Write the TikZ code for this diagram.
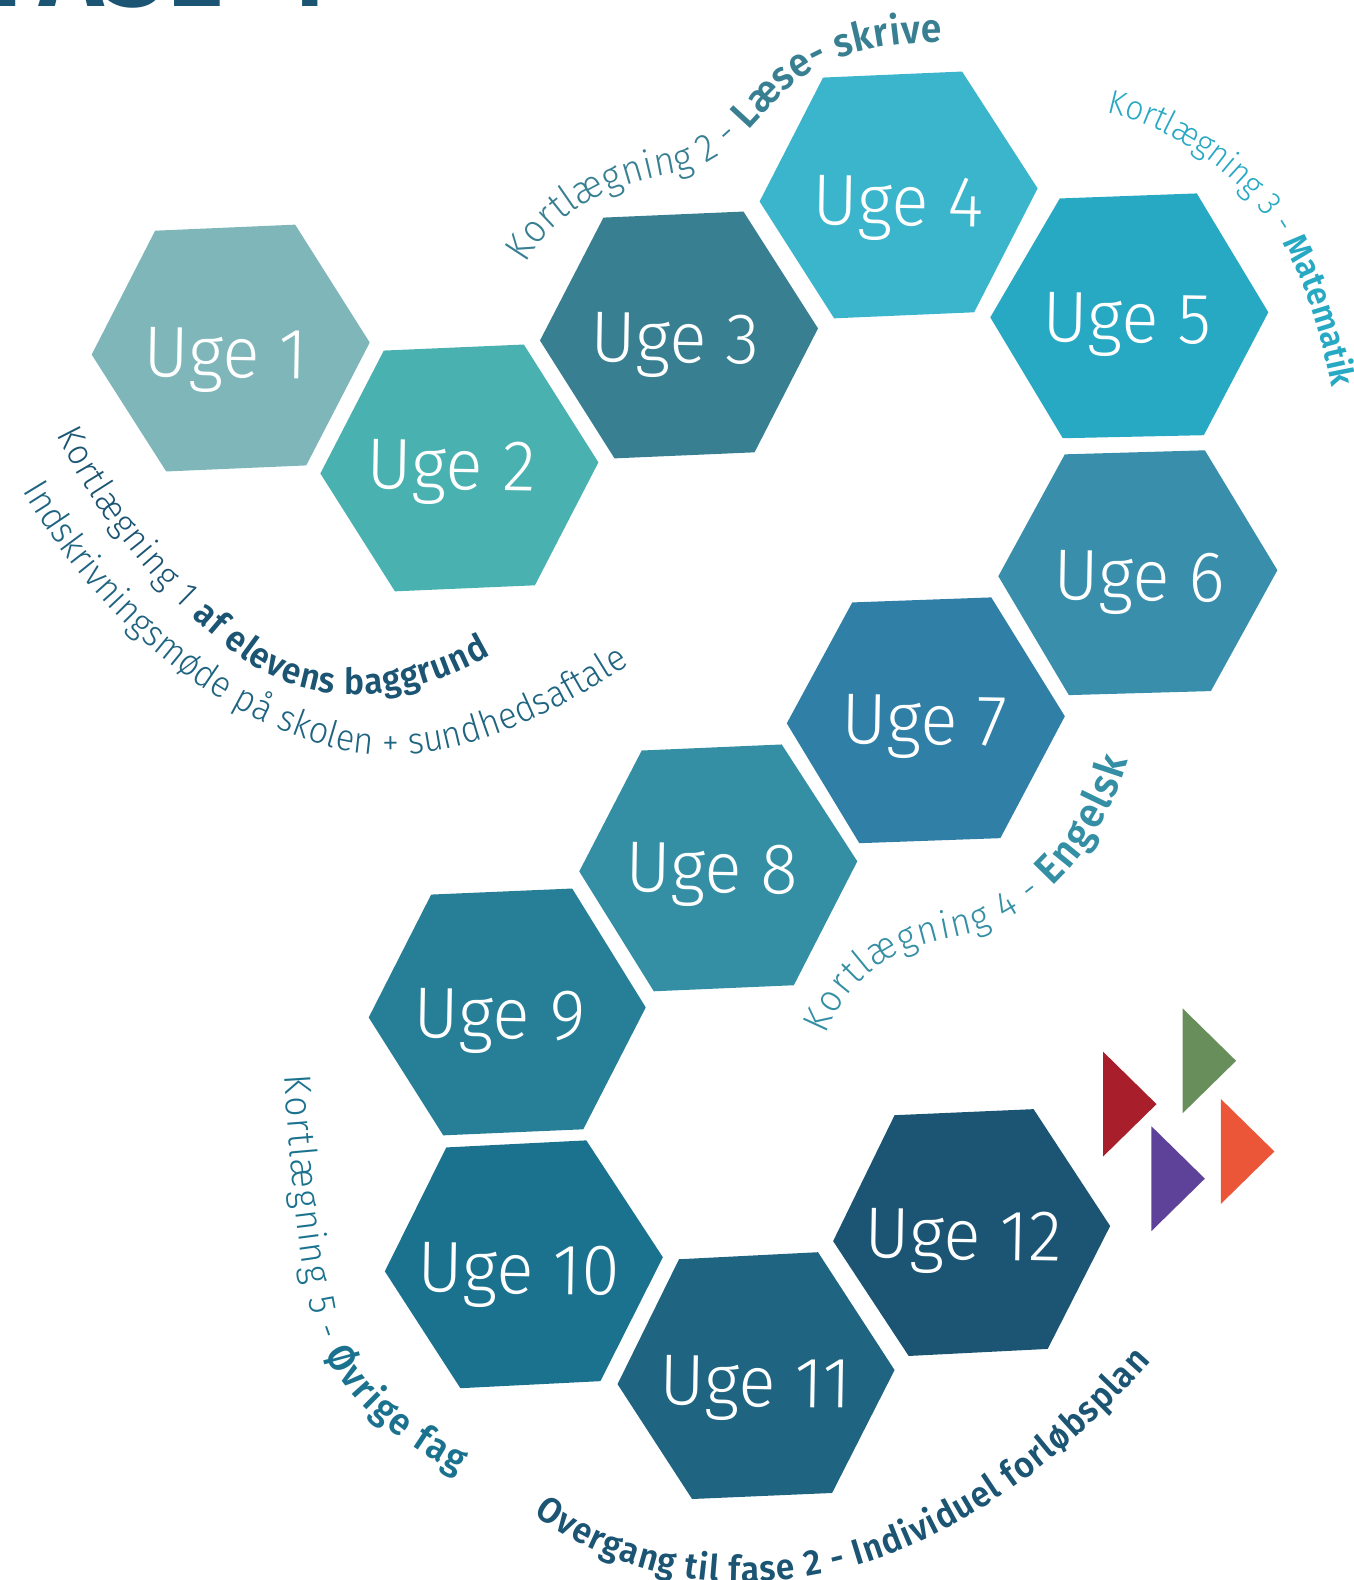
\documentclass[tikz,border=0pt]{standalone}
\usepackage{fontspec}
\usetikzlibrary{decorations.text}
\setmainfont{Fira Sans Light}[BoldFont={Fira Sans SemiBold},FakeStretch=0.93]
\newfontfamily\ugefont{Fira Sans Light}[FakeStretch=0.96]
\newfontfamily\titlefont{Fira Sans SemiBold}
\definecolor{cu1}{HTML}{7FB6BA}
\definecolor{cu2}{HTML}{4AB1B1}
\definecolor{cu3}{HTML}{387F92}
\definecolor{cu4}{HTML}{3AB5CC}
\definecolor{cu5}{HTML}{27A8C3}
\definecolor{cu6}{HTML}{388EAB}
\definecolor{cu7}{HTML}{2F7FA7}
\definecolor{cu8}{HTML}{348FA5}
\definecolor{cu9}{HTML}{277F97}
\definecolor{cu10}{HTML}{1B728F}
\definecolor{cu11}{HTML}{1F6480}
\definecolor{cu12}{HTML}{1B5573}
\definecolor{tred}{HTML}{A91E2B}
\definecolor{tgreen}{HTML}{688F5B}
\definecolor{tpurple}{HTML}{5E429A}
\definecolor{torange}{HTML}{EB5639}
\tikzset{
  ugelabel/.style={text=white,font=\ugefont\fontsize{36}{36}\selectfont,inner sep=0pt,rotate=-1},
  curvetext/.style={decorate,decoration={text along path,text align={fit to path},text={#1}}},
  curvetextleft/.style={decorate,decoration={text along path,text={#1}}},
  tri/.style={fill=#1,draw=none}
}
\newcommand{\hexa}[7]{\fill[#1] #2 -- #3 -- #4 -- #5 -- #6 -- #7 -- cycle;}
\begin{document}
\begin{tikzpicture}[x=0.50370pt,y=-0.50370pt]
\useasboundingbox (0,0) rectangle (1344,1568.4);
% title, cut by the page edge
\node[anchor=base west,inner sep=0pt,text=cu12,font=\titlefont\fontsize{55}{55}\selectfont] (title) at (-9,6) {FASE\hspace{13pt} 1};
% hexagons
\hexa{cu1}{(91,352)}{(154,229)}{(293,223)}{(367,340)}{(304,462)}{(165,468)}
\hexa{cu2}{(318,470)}{(381,348)}{(520,342)}{(594,459)}{(531,581)}{(392,587)}
\hexa{cu3}{(536,338)}{(599,216)}{(738,210)}{(812,326)}{(749,449)}{(610,455)}
\hexa{cu4}{(754,200)}{(817,77)}{(955,71)}{(1030,187)}{(967,310)}{(828,316)}
\hexa{cu5}{(983,315)}{(1052,197)}{(1188,192)}{(1259,310)}{(1195,432)}{(1055,435)}
\hexa{cu6}{(991,572)}{(1057,451)}{(1196,447)}{(1268,566)}{(1202,686)}{(1061,690)}
\hexa{cu7}{(781,718)}{(846,598)}{(984,593)}{(1057,711)}{(993,832)}{(853,837)}
\hexa{cu8}{(575,865)}{(637,745)}{(776,739)}{(851,855)}{(788,978)}{(649,984)}
\hexa{cu9}{(366,1010)}{(428,888)}{(568,882)}{(641,1000)}{(579,1121)}{(440,1127)}
\hexa{cu10}{(382,1262)}{(443,1139)}{(582,1132)}{(658,1248)}{(596,1371)}{(457,1378)}
\hexa{cu11}{(613,1374)}{(674,1250)}{(812,1243)}{(888,1360)}{(826,1482)}{(687,1488)}
\hexa{cu12}{(827,1232)}{(888,1107)}{(1026,1101)}{(1102,1217)}{(1040,1339)}{(902,1346)}
% labels
\node[ugelabel] (u1) at (224,358) {Uge 1};
\node[ugelabel] (u2) at (448,469) {Uge 2};
\node[ugelabel] (u3) at (670,343) {Uge 3};
\node[ugelabel] (u4) at (892,207) {Uge 4};
\node[ugelabel] (u5) at (1119,323) {Uge 5};
\node[ugelabel] (u6) at (1131,579) {Uge 6};
\node[ugelabel] (u7) at (918,722) {Uge 7};
\node[ugelabel] (u8) at (707,869) {Uge 8};
\node[ugelabel] (u9) at (496,1014) {Uge 9};
\node[ugelabel] (u10) at (515,1267) {Uge 10};
\node[ugelabel] (u11) at (750,1379) {Uge 11};
\node[ugelabel] (u12) at (956,1233) {Uge 12};
% triangles
\fill[tri=tred] (1095,1044) -- (1148,1096) -- (1095,1148) -- cycle;
\fill[tri=tgreen] (1174,1001) -- (1227,1053) -- (1174,1105) -- cycle;
\fill[tri=tpurple] (1143,1118) -- (1196,1170) -- (1143,1222) -- cycle;
\fill[tri=torange] (1212,1091) -- (1265,1143) -- (1212,1195) -- cycle;
% curved captions
\path[curvetext={|\fontsize{18}{18}\selectfont\color{cu12}|Kortlægning 1 |||\fontsize{18}{18}\selectfont\bfseries\color{cu12}|af elevens baggrund}]
  (56,431) .. controls (100,520) and (165,600) .. (250,660) .. controls (320,705) and (410,695) .. (487,650);
\path[curvetext={|\fontsize{18.5}{18.5}\selectfont\color{cu11}|Indskrivningsmøde på skolen + sundhedsaftale}]
  (22,487) .. controls (90,600) and (190,705) .. (340,745) .. controls (440,765) and (540,715) .. (625,660);
\path[curvetext={|\fontsize{19.5}{19.5}\selectfont\color{cu3}|Kortlægning 2 - |||\fontsize{20}{20}\selectfont\bfseries\color{cu3}|Læse- skrive}]
  (522,262) .. controls (555,205) and (610,182) .. (670,172) .. controls (720,163) and (740,130) .. (770,100) .. controls (810,55) and (870,42) .. (935,42);
\path[curvetextleft={|\fontsize{17}{17}\selectfont\color{cu5}|Kortlægning 3 - |||\fontsize{17}{17}\selectfont\bfseries\color{cu5}|Matematik}]
  (1098,112) .. controls (1160,124) and (1225,170) .. (1262,222) .. controls (1290,265) and (1310,320) .. (1322,385) -- (1332,450);
\path[curvetext={|\fontsize{19}{19}\selectfont\color{cu8}|Kortlægning 4 - |||\fontsize{21}{21}\selectfont\bfseries\color{cu8}|Engelsk}]
  (820,1027) .. controls (845,965) and (890,940) .. (950,930) .. controls (1030,915) and (1095,840) .. (1120,755);
\path[curvetext={|\fontsize{19}{19}\selectfont\color{cu10}|Kortlægning 5 - |||\fontsize{19}{19}\selectfont\bfseries\color{cu10}|Øvrige fag}]
  (282,1068) .. controls (287,1150) and (295,1230) .. (308,1300) .. controls (322,1375) and (385,1425) .. (455,1463);
\path[curvetext={|\fontsize{18}{18}\selectfont\bfseries\color{cu12}|Overgang til fase 2 - Individuel forløbsplan}]
  (530,1503) .. controls (660,1600) and (900,1625) .. (1142,1352);
\end{tikzpicture}
\end{document}
